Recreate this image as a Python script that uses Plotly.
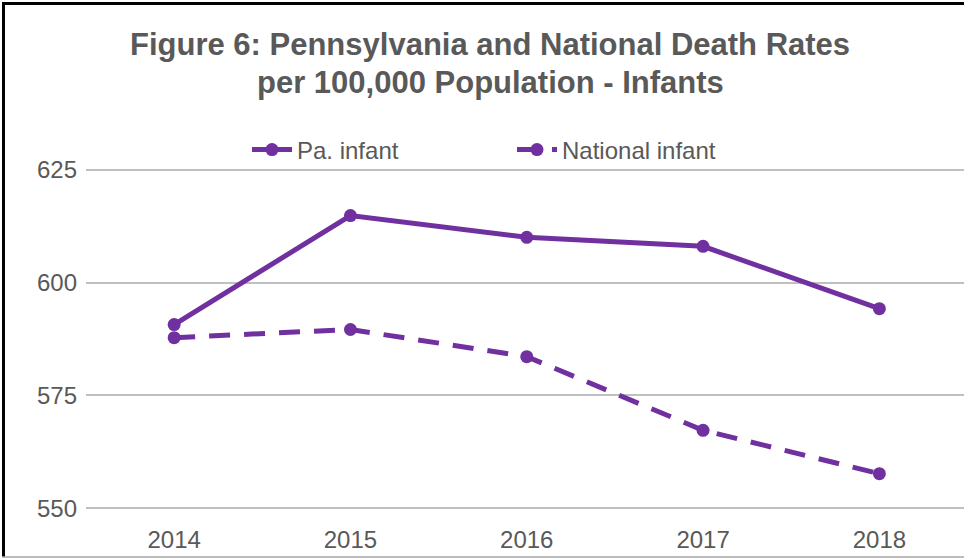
import plotly.graph_objects as go

years = ["2014", "2015", "2016", "2017", "2018"]
pa_infant = [590.7, 614.8, 610.0, 608.0, 594.2]
national_infant = [587.8, 589.6, 583.6, 567.3, 557.7]
y_ticks = [550, 575, 600, 625]
title_lines = ["Figure 6: Pennsylvania and National Death Rates",
               "per 100,000 Population - Infants"]

W, H = 964, 559
ML, MR, MT, MB = 86, 0, 165, 46
PW, PH = W - ML - MR, H - MT - MB

def px_x(px):
    return (px - ML) / PW

def px_y(py):
    return (H - MB - py) / PH

purple = "#7030A0"
grey_text = "#595959"
font_fam = "Liberation Sans, Arial, sans-serif"

fig = go.Figure()
fig.add_trace(go.Scatter(
    x=years, y=pa_infant, name="Pa. infant", mode="lines+markers",
    line=dict(color=purple, width=5),
    marker=dict(color=purple, size=13, symbol="circle"),
))
fig.add_trace(go.Scatter(
    x=years, y=national_infant, name="National infant", mode="lines+markers",
    line=dict(color=purple, width=5, dash="21px,14px"),
    marker=dict(color=purple, size=13, symbol="circle"),
))

fig.update_layout(
    width=W, height=H,
    margin=dict(l=ML, r=MR, t=MT, b=MB, pad=0),
    paper_bgcolor="white", plot_bgcolor="white",
    font=dict(family=font_fam, color=grey_text),
    showlegend=True,
    legend=dict(
        orientation="h", x=px_x(247), xanchor="left", y=px_y(150), yanchor="middle",
        font=dict(size=24, color=grey_text), bgcolor="rgba(0,0,0,0)",
        itemwidth=40, entrywidth=210,
    ),
    xaxis=dict(
        type="category", range=[-0.5, 4.48], showgrid=False, zeroline=False,
        showline=False, ticks="", tickfont=dict(size=24, color=grey_text),
        ticklabelstandoff=10,
    ),
    yaxis=dict(
        range=[549, 626], tickvals=y_ticks, showgrid=True, gridcolor="#c0c0c0",
        gridwidth=2, zeroline=False, showline=False, ticks="",
        tickfont=dict(size=24, color=grey_text), ticklabelstandoff=8,
    ),
)

for txt, yc in zip(title_lines, [45, 82]):
    fig.add_annotation(
        text="<b>%s</b>" % txt, xref="paper", yref="paper",
        x=px_x(490), y=px_y(yc), xanchor="center", yanchor="middle",
        showarrow=False, font=dict(size=31, color=grey_text, family=font_fam),
    )

# Outer border (black top/left, grey bottom)
fig.add_shape(type="line", xref="paper", yref="paper",
              x0=px_x(2), x1=px_x(W), y0=px_y(3.5), y1=px_y(3.5),
              line=dict(color="black", width=3), layer="above")
fig.add_shape(type="line", xref="paper", yref="paper",
              x0=px_x(3.5), x1=px_x(3.5), y0=px_y(2), y1=px_y(557),
              line=dict(color="black", width=3), layer="above")
fig.add_shape(type="line", xref="paper", yref="paper",
              x0=px_x(2), x1=px_x(W), y0=px_y(557), y1=px_y(557),
              line=dict(color="#a6a6a6", width=1.5), layer="above")

fig.write_html("out.html", config={"displayModeBar": False},
               post_script="document.body.style.margin='0';document.body.style.overflow='hidden';")
